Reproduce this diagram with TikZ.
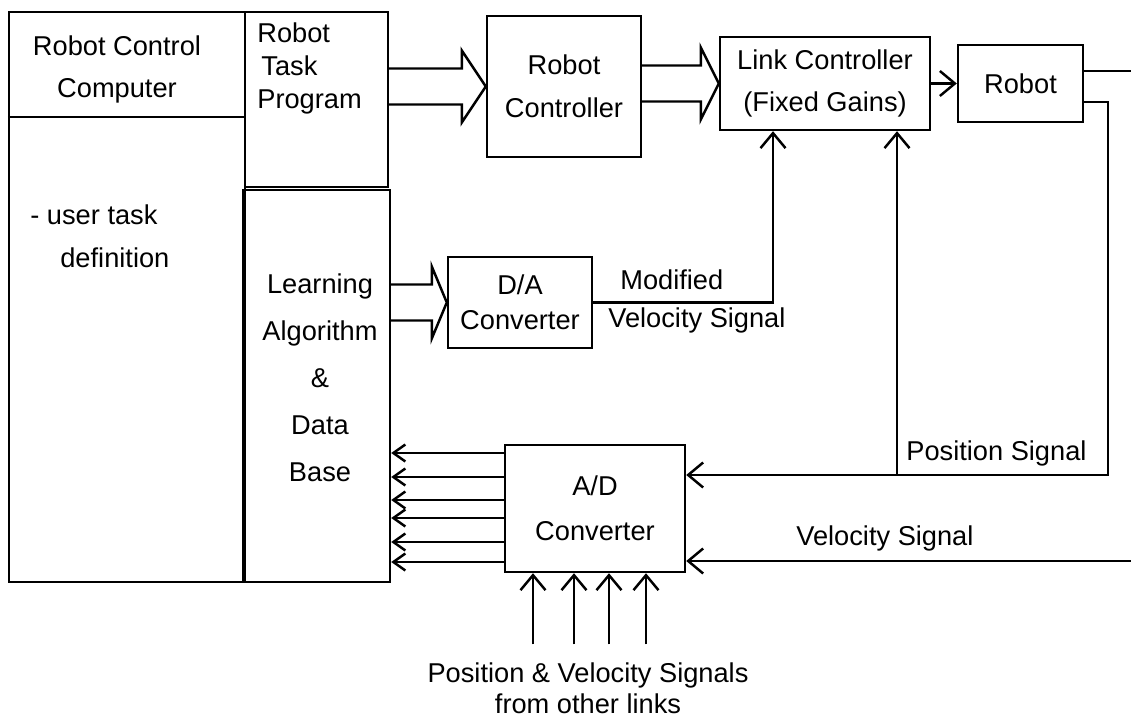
\documentclass[tikz,border=0pt]{standalone}
\usepackage{fontspec}
\setmainfont{Liberation Sans}
\usetikzlibrary{arrows.meta,positioning,calc}

\newcommand{\lfont}[1]{\fontsize{15.5}{#1}\selectfont}
% hollow (double line) arrow: source node, target node, head length
\newcommand{\fatarrow}[3]{%
  \draw[wire] ($(#1.east|-#2.west)+(0,-18)$) -- ($(#2.west)+(-#3,-18)$) -- ++(0,-18)
    -- (#2.west) -- ($(#2.west)+(-#3,36)$) -- ++(0,-18) -- ($(#1.east|-#2.west)+(0,18)$);}

\tikzset{
  blk/.style={draw,line width=1.4pt,inner sep=0pt,align=center},
  wire/.style={line width=1.4pt,line join=miter},
  sig/.style={wire,-{Straight Barb[length=3mm,width=5mm,line width=1.4pt]}},
  smallsig/.style={wire,-{Straight Barb[length=2.4mm,width=3.4mm,line width=1.4pt]}},
  lbl/.style={inner sep=0pt,align=left},
}

\begin{document}
\begin{tikzpicture}[x=0.02cm,y=-0.02cm,font=\lfont{19}]
\useasboundingbox (0,0) rectangle (1131,719);

% computer side
\node[blk,minimum width=4.72cm,minimum height=11.4cm] (comp) at (127,297) {};
\draw[wire] (comp.west |- 0,117) -- (comp.east |- 0,117);
\node[align=center,font={\lfont{23.9}}] (comptxt) at (117,69) {Robot Control\\Computer};
\node[lbl,anchor=west] (usr1) at (30,215) {- user task};
\node[lbl,anchor=west] (usr2) at (60,258) {definition};

\node[blk,minimum width=2.86cm,minimum height=3.5cm] (task) at (316.5,99.5) {};
\node[lbl,anchor=north west,font={\lfont{18.8}}] (tasktxt) at (257,22) {Robot\\\hspace{0.08cm}Task\\Program};

\node[blk,minimum width=2.94cm,minimum height=7.84cm] (learn) at (316.5,386) {};
\node[align=center,font={\lfont{26.8}}] (learntxt) at (320,378) {Learning\\Algorithm\\\&\\Data\\Base};

% controller chain
\node[blk,minimum width=3.08cm,minimum height=2.82cm,font={\lfont{24.5}}] (rc) at (564,86.5) {Robot\\Controller};
\node[blk,minimum width=4.2cm,minimum height=1.86cm,font={\lfont{23.9}}] (lc) at (825,83.5) {Link Controller\\(Fixed Gains)};
\node[blk,minimum width=2.5cm,minimum height=1.54cm] (rob) at (1020.5,83.5) {Robot};
\node[blk,minimum width=2.88cm,minimum height=1.82cm,font={\lfont{19.9}}] (da) at (520,302.5) {D/A\\Converter};
\node[blk,minimum width=3.6cm,minimum height=2.54cm,font={\lfont{25.6}}] (ad) at (595,508.5) {A/D\\Converter};

\fatarrow{task}{rc}{24}
\fatarrow{rc}{lc}{18}
\fatarrow{learn}{da}{15}

\draw[sig] (lc.east) -- (rob.west);
\coordinate (out) at (1131,71);
\draw[wire] (rob.east |- out) -- (out);

% feedback signals
\coordinate (pos) at (1108,475);
\coordinate (posbr) at (897,475);
\coordinate (vel) at (1131,561);
\draw[sig] ($(rob.east)+(0,18.5)$) -| (pos) -- (pos -| ad.east);
\draw[sig] (posbr) -- (posbr |- lc.south);
\draw[sig] (vel) -- (vel -| ad.east);
\draw[sig] (da.east) -| ($(lc.south)+(-52,0)$);

\node[lbl,anchor=west,font={\lfont{21.6}}] (modlbl) at (608,301) {\hspace{0.24cm}Modified\\Velocity Signal};
\node[lbl,anchor=west] (poslbl) at (906,453) {Position Signal};
\node[lbl,anchor=west] (vellbl) at (796,538) {Velocity Signal};

% A/D to data base
\foreach \y in {453,477,500,518,542,562}
  \draw[smallsig] (ad.west |- 0,\y) -- (learn.east |- 0,\y);

% other links
\node[align=center,font={\lfont{17.6}}] (other) at (588,688) {Position \& Velocity Signals\\from other links};
\foreach \x in {533,574,609,646}
  \draw[sig] ($(other.north -| \x,0)+(0,-12)$) -- (ad.south -| \x,0);
\end{tikzpicture}
\end{document}
